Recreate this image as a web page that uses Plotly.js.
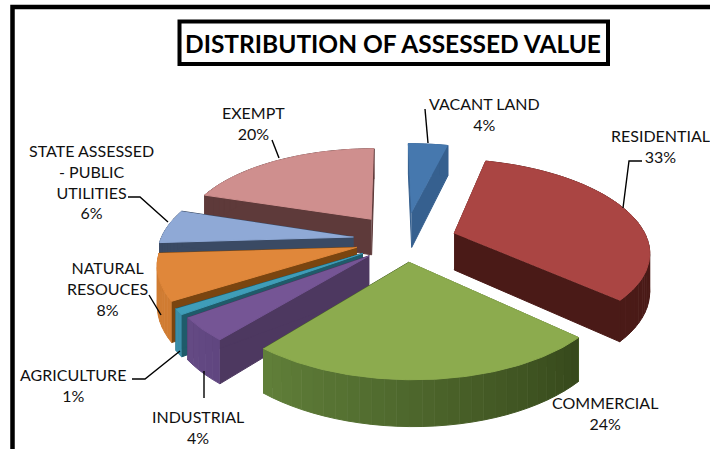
<!DOCTYPE html>
<html><head><meta charset="utf-8">
<script src="https://cdn.plot.ly/plotly-3.0.1.min.js"></script>
<style>html,body{margin:0;padding:0;background:#fff}#c{width:710px;height:449px}</style></head>
<body><div id="c"></div>
<script>
const categories=["VACANT LAND","RESIDENTIAL","COMMERCIAL","INDUSTRIAL","AGRICULTURE","NATURAL RESOUCES","STATE ASSESSED - PUBLIC UTILITIES","EXEMPT"];
const values=[4,33,24,4,1,8,6,20];
const topColors=["#4678ae","#aa4543","#8cab4e","#755595","#3f9db8","#e0873a","#8fa9d6","#cf8f8e"];
const wallColors=["#36608f","#4a1a17","#4a6428","#4d3860","#1f5b6a","#7a4510","#3a4a64","#5e3a3a"];
const arcStart=["#36608f","#4a1a17","#61803a","#644a84","#3a8ea8","#d07c32","#3a4a64","#5e3a3a"];
const arcEnd=["#36608f","#4a1a17","#36481b","#5f4680","#3a8ea8","#d07c32","#3a4a64","#5e3a3a"];
const explode=[0.33,0.27,0.24,0.25,0.26,0.26,0.27,0.3];
const drawOrder=[7,0,6,1,5,4,3,2];
const view={cx:405,cy:240,R:193,k:0.461,p:0.17,vx:388,depth:37};

function project(X,Y,z){
  const w=1/(1+view.p*Y);
  return [view.vx+(view.cx-view.vx+view.R*X)*w, view.cy-view.R*view.k*Y*w+view.depth*z*w];
}
function mix(a,b,t){
  const h=s=>[1,3,5].map(i=>parseInt(s.substr(i,2),16));
  const A=h(a),B=h(b);
  return "rgb("+A.map((v,i)=>Math.round(v+(B[i]-v)*t)).join(",")+")";
}
function poly(pts,color){
  return {type:"scatter",mode:"lines",x:pts.map(p=>p[0]),y:pts.map(p=>p[1]),fill:"toself",fillcolor:color,
    line:{color:color,width:1},hoverinfo:"skip",showlegend:false};
}
const total=values.reduce((a,b)=>a+b,0);
let cum=0;
const slices=values.map((v,i)=>{const a0=cum/total*2*Math.PI;cum+=v;const a1=cum/total*2*Math.PI;return {i,a0,a1};});
const traces=[];
drawOrder.forEach(idx=>{
  const s=slices[idx],mid=(s.a0+s.a1)/2,e=explode[idx];
  const ox=e*Math.sin(mid),oy=e*Math.cos(mid);
  const pt=(a,z)=>project(ox+Math.sin(a),oy+Math.cos(a),z);
  const apex=z=>project(ox,oy,z);
  traces.push(poly([apex(0),pt(s.a0,0),pt(s.a0,1),apex(1)],wallColors[idx]));
  traces.push(poly([apex(0),pt(s.a1,0),pt(s.a1,1),apex(1)],wallColors[idx]));
  const n=Math.max(2,Math.ceil((s.a1-s.a0)/(3*Math.PI/180)));
  for(let j=0;j<n;j++){
    const a=s.a0+(s.a1-s.a0)*j/n,b=s.a0+(s.a1-s.a0)*(j+1)/n;
    traces.push(poly([pt(a,0),pt(b,0),pt(b,1),pt(a,1)],mix(arcEnd[idx],arcStart[idx],(j+0.5)/n)));
  }
  const top=[apex(0)];
  for(let j=0;j<=n*3;j++){top.push(pt(s.a0+(s.a1-s.a0)*j/(n*3),0));}
  traces.push(poly(top,topColors[idx]));
});

const labelFont={family:"Lato, Carlito, sans-serif",size:16,color:"#111"};
const label=(x,y,t)=>({x,y,text:t,showarrow:false,xref:"x",yref:"y",xanchor:"center",yanchor:"middle",align:"center",font:labelFont});
const annotations=[
 label(484,114,"VACANT LAND<br>4%"),
 label(660,146,"RESIDENTIAL<br>33%"),
 label(605,413,"COMMERCIAL<br>24%"),
 label(198,427,"INDUSTRIAL<br>4%"),
 label(73,385,"AGRICULTURE<br>1%"),
 label(107,288,"NATURAL<br>RESOUCES<br>8%"),
 label(91,181,"STATE ASSESSED<br>- PUBLIC<br>UTILITIES<br>6%"),
 label(253,123,"EXEMPT<br>20%"),
 {x:393,y:43,xref:"x",yref:"y",text:"<b>DISTRIBUTION OF ASSESSED VALUE</b>",showarrow:false,
  font:{family:"Lato, Carlito, sans-serif",size:24.5,color:"#000"},xanchor:"center",yanchor:"middle"}
];
const leader=d=>({type:"path",path:d,xref:"x",yref:"y",line:{color:"#000",width:1.4}});
const shapes=[
 {type:"path",path:"M12.5,449 L12.5,7 L710,7",xref:"x",yref:"y",line:{color:"#000",width:4.5}},
 {type:"rect",x0:179.5,x1:608,y0:21.5,y1:64,xref:"x",yref:"y",line:{color:"#000",width:4}},
 leader("M425,109 L428,143"),
 leader("M642,161 L629,161 L623,208"),
 leader("M272,140 L279,158"),
 leader("M128,197 L140,197 L168,222"),
 leader("M149,295 L161,315"),
 leader("M132,379 L145,379 L180,351"),
 leader("M204,371 L204,398")
];
Plotly.newPlot("c",traces,{
  width:710,height:449,margin:{l:0,r:0,t:0,b:0},paper_bgcolor:"#fff",plot_bgcolor:"#fff",showlegend:false,
  xaxis:{range:[0,710],visible:false,fixedrange:true},
  yaxis:{range:[449,0],visible:false,fixedrange:true},
  annotations,shapes
},{displayModeBar:false,staticPlot:true});
</script></body></html>
